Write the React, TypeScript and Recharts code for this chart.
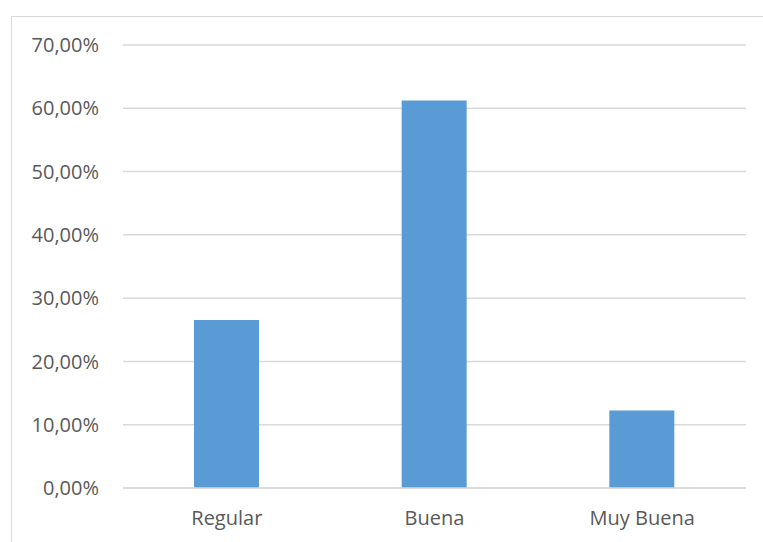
import React from "react";
import { BarChart, Bar, XAxis, YAxis, CartesianGrid } from "recharts";

const categories = ["Regular", "Buena", "Muy Buena"];
const values = [26.53, 61.22, 12.24];
const yTicks = [0, 10, 20, 30, 40, 50, 60, 70];

const data = categories.map((c, i) => ({ name: c, value: values[i] }));

const fmt = (v: number) => v.toFixed(2).replace(".", ",") + "%";

const FONT = "'Open Sans', sans-serif";

export default function App() {
  return (
    <div>
      <div
        style={{
          position: "absolute",
          left: 11,
          top: 16,
          width: 780,
          height: 560,
          border: "1px solid #d9d9d9",
          boxSizing: "border-box",
        }}
      />
      <div style={{ position: "absolute", left: 0, top: 0 }}>
        <BarChart
          width={763}
          height={542}
          data={data}
          margin={{ top: 45, right: 17, bottom: 24, left: 0 }}
        >
          <CartesianGrid vertical={false} stroke="#d9d9d9" strokeWidth={1.5} />
          <XAxis
            dataKey="name"
            axisLine={{ stroke: "#d9d9d9", strokeWidth: 1.5 }}
            tickLine={false}
            tickMargin={17}
            tick={{ fill: "#595959", fontSize: 20, fontFamily: FONT }}
          />
          <YAxis
            width={123}
            domain={[0, 70]}
            ticks={yTicks}
            tickFormatter={fmt}
            axisLine={false}
            tickLine={false}
            tickMargin={18}
            tick={{ fill: "#595959", fontSize: 20, fontFamily: FONT }}
          />
          <Bar dataKey="value" fill="#5b9bd5" barSize={65} isAnimationActive={false} />
        </BarChart>
      </div>
    </div>
  );
}
